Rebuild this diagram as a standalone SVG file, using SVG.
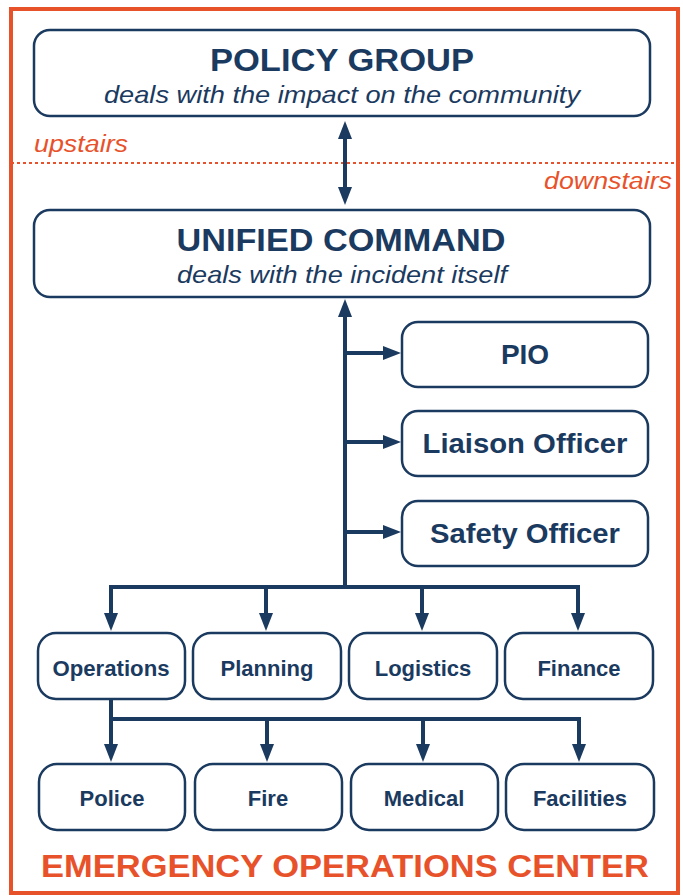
<svg xmlns="http://www.w3.org/2000/svg" width="683" height="896" viewBox="0 0 683 896">
<style>
.box{fill:#fff;stroke:#1B3A5F;stroke-width:2.5}
.t{font-family:"Liberation Sans",Arial,sans-serif;fill:#1B3A5F;font-weight:bold;text-anchor:middle}
.s{font-family:"Liberation Sans",Arial,sans-serif;fill:#1B3A5F;font-style:italic;text-anchor:middle}
.o{font-family:"Liberation Sans",Arial,sans-serif;fill:#E8522B;font-style:italic}
.c{fill:none;stroke:#1B3A5F;stroke-width:4}
</style>
<defs>
<marker id="ah" markerUnits="userSpaceOnUse" markerWidth="18" markerHeight="14" refX="8" refY="7" orient="auto-start-reverse">
<path d="M0,0 L18,7 L0,14 z" fill="#1B3A5F"/>
</marker>
</defs>
<rect x="0" y="0" width="683" height="896" fill="#fff"/>
<rect id="frame" x="11" y="9" width="667" height="884" fill="none" stroke="#E8522B" stroke-width="4"/>
<line x1="11" y1="163" x2="678" y2="163" stroke="#E8522B" stroke-width="1.8" stroke-dasharray="3,3"/>
<text class="o" x="34" y="152" font-size="23" textLength="94" lengthAdjust="spacingAndGlyphs">upstairs</text>
<text class="o" x="544" y="189" font-size="23" textLength="128" lengthAdjust="spacingAndGlyphs">downstairs</text>

<g id="connectors">
<line class="c" x1="345" y1="195" x2="345" y2="131" marker-start="url(#ah)" marker-end="url(#ah)"/>
<path class="c" d="M345,589 V309" marker-end="url(#ah)"/>
<path class="c" d="M345,353 H391" marker-end="url(#ah)"/>
<path class="c" d="M345,442 H391" marker-end="url(#ah)"/>
<path class="c" d="M345,532 H391" marker-end="url(#ah)"/>
<path class="c" d="M109,587 H580"/>
<path class="c" d="M111,587 V621" marker-end="url(#ah)"/>
<path class="c" d="M266,587 V621" marker-end="url(#ah)"/>
<path class="c" d="M422,587 V621" marker-end="url(#ah)"/>
<path class="c" d="M578,587 V621" marker-end="url(#ah)"/>
<path class="c" d="M111,700 V719 H581"/>
<path class="c" d="M111,719 V752" marker-end="url(#ah)"/>
<path class="c" d="M267,719 V752" marker-end="url(#ah)"/>
<path class="c" d="M423,719 V752" marker-end="url(#ah)"/>
<path class="c" d="M579,719 V752" marker-end="url(#ah)"/>
</g>

<g id="policy">
<rect class="box" x="34" y="30" width="616" height="86" rx="16"/>
<text class="t" x="342" y="71" font-size="32" textLength="264" lengthAdjust="spacingAndGlyphs">POLICY GROUP</text>
<text class="s" x="342" y="103" font-size="24" textLength="476" lengthAdjust="spacingAndGlyphs">deals with the impact on the community</text>
</g>
<g id="unified">
<rect class="box" x="34" y="210" width="616" height="87" rx="16"/>
<text class="t" x="341" y="251" font-size="32" textLength="329" lengthAdjust="spacingAndGlyphs">UNIFIED COMMAND</text>
<text class="s" x="342" y="283" font-size="24" textLength="330" lengthAdjust="spacingAndGlyphs">deals with the incident itself</text>
</g>
<g id="pio">
<rect class="box" x="402" y="322" width="246" height="65" rx="16"/>
<text class="t" x="525" y="364" font-size="28">PIO</text>
</g>
<g id="liaison">
<rect class="box" x="402" y="411" width="246" height="65" rx="16"/>
<text class="t" x="525" y="453" font-size="28" textLength="205" lengthAdjust="spacingAndGlyphs">Liaison Officer</text>
</g>
<g id="safety">
<rect class="box" x="402" y="501" width="246" height="65" rx="16"/>
<text class="t" x="525" y="543" font-size="28" textLength="190" lengthAdjust="spacingAndGlyphs">Safety Officer</text>
</g>

<g id="operations">
<rect class="box" x="38" y="633" width="147" height="66" rx="18"/>
<text class="t" x="111" y="676" font-size="22" textLength="117" lengthAdjust="spacingAndGlyphs">Operations</text>
</g>
<g id="planning">
<rect class="box" x="193" y="633" width="148" height="66" rx="18"/>
<text class="t" x="267" y="676" font-size="22">Planning</text>
</g>
<g id="logistics">
<rect class="box" x="349" y="633" width="148" height="66" rx="18"/>
<text class="t" x="423" y="676" font-size="22">Logistics</text>
</g>
<g id="finance">
<rect class="box" x="505" y="633" width="148" height="66" rx="18"/>
<text class="t" x="579" y="676" font-size="22">Finance</text>
</g>

<g id="police">
<rect class="box" x="39" y="764" width="146" height="66" rx="18"/>
<text class="t" x="112" y="806" font-size="22">Police</text>
</g>
<g id="fire">
<rect class="box" x="195" y="764" width="147" height="66" rx="18"/>
<text class="t" x="268" y="806" font-size="22">Fire</text>
</g>
<g id="medical">
<rect class="box" x="351" y="764" width="147" height="66" rx="18"/>
<text class="t" x="424" y="806" font-size="22">Medical</text>
</g>
<g id="facilities">
<rect class="box" x="506" y="764" width="148" height="66" rx="18"/>
<text class="t" x="580" y="806" font-size="22">Facilities</text>
</g>

<text class="t" x="345" y="877" font-size="32" style="fill:#E8522B" textLength="608" lengthAdjust="spacingAndGlyphs">EMERGENCY OPERATIONS CENTER</text>
</svg>
